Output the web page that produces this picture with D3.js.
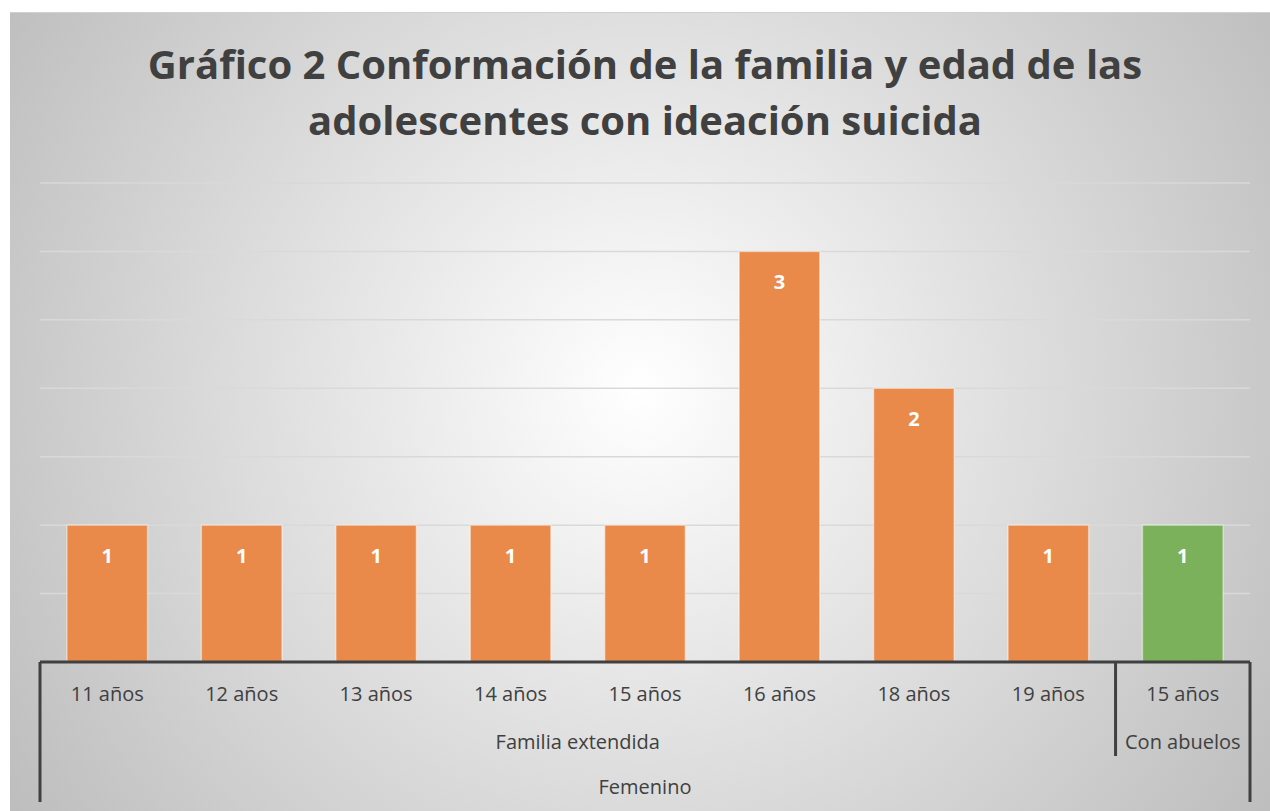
<!DOCTYPE html>
<html><head><meta charset="utf-8">
<script src="https://cdn.jsdelivr.net/npm/d3@7"></script>
<style>html,body{margin:0;padding:0;background:#fff;}svg{display:block;}</style>
</head><body>
<script>
const ages = ["11 años","12 años","13 años","14 años","15 años","16 años","18 años","19 años","15 años"];
const families = ["Familia extendida","Familia extendida","Familia extendida","Familia extendida","Familia extendida","Familia extendida","Familia extendida","Familia extendida","Con abuelos"];
const sexes = ["Femenino","Femenino","Femenino","Femenino","Femenino","Femenino","Femenino","Femenino","Femenino"];
const values = [1,1,1,1,1,3,2,1,1];
const yTicks = [0,0.5,1,1.5,2,2.5,3,3.5];
const title = ["Gráfico 2 Conformación de la familia y edad de las","adolescentes con ideación suicida"];

const W=1270,H=811;
const svg=d3.select("body").append("svg").attr("width",W).attr("height",H);
const defs=svg.append("defs");
const rg=defs.append("radialGradient").attr("id","bg").attr("gradientUnits","userSpaceOnUse")
  .attr("cx",640).attr("cy",390).attr("r",760);
rg.append("stop").attr("offset","0%").attr("stop-color","#ffffff");
rg.append("stop").attr("offset","100%").attr("stop-color","#bdbdbd");
svg.append("rect").attr("x",10).attr("y",12).attr("width",W-10).attr("height",H-12).attr("fill","url(#bg)");
svg.append("line").attr("x1",10).attr("x2",W).attr("y1",12.5).attr("y2",12.5).attr("stroke","#d0d0d0");

const fontF="'Open Sans', sans-serif";
const tg=svg.append("g");
tg.selectAll("text").data(title).join("text")
  .attr("x",645).attr("y",(d,i)=>79+i*56).attr("text-anchor","middle")
  .attr("font-family",fontF).attr("font-weight","bold").attr("font-size",40).attr("fill","#404040")
  .text(d=>d);

const x0=40,x1=1250,yBase=662;
const idx=values.map((d,i)=>i);
const x=d3.scaleBand().domain(idx).range([x0,x1]).paddingInner(0.4).paddingOuter(0.2);
const y=d3.scaleLinear().domain([0,3.5]).range([yBase,183]);

svg.append("g").selectAll("line").data(yTicks.slice(1)).join("line")
  .attr("x1",x0).attr("x2",x1).attr("y1",d=>y(d)).attr("y2",d=>y(d))
  .attr("stroke","#d9d9d9").attr("stroke-width",1.5);

const colorOf=i=>families[i]==="Con abuelos"?"#7BB15A":"#EA8A4A";
svg.append("g").selectAll("rect").data(idx).join("rect")
  .attr("x",i=>x(i)).attr("width",x.bandwidth())
  .attr("y",i=>y(values[i])).attr("height",i=>yBase-y(values[i]))
  .attr("fill",colorOf).attr("stroke","rgba(255,255,255,0.45)").attr("stroke-width",1.5);

svg.append("g").selectAll("text").data(idx).join("text")
  .attr("x",i=>x(i)+x.bandwidth()/2).attr("y",i=>y(values[i])+38)
  .attr("text-anchor","middle").attr("font-family",fontF).attr("font-weight","bold")
  .attr("font-size",20).attr("fill","#fff").text(i=>values[i]);

// axis
const ax=svg.append("g").attr("stroke","#404040").attr("stroke-width",3).attr("fill","none");
ax.append("line").attr("x1",x0).attr("x2",x1).attr("y1",yBase).attr("y2",yBase);
ax.append("line").attr("x1",x0).attr("x2",x0).attr("y1",yBase).attr("y2",802);
ax.append("line").attr("x1",x1).attr("x2",x1).attr("y1",yBase).attr("y2",802);
const step=x.step();
const sepX=x(8)-x.paddingInner()*step/2;
ax.append("line").attr("x1",sepX).attr("x2",sepX).attr("y1",yBase).attr("y2",756);

const lab=svg.append("g").attr("font-family",fontF).attr("font-size",20).attr("fill","#404040").attr("text-anchor","middle");
lab.selectAll("text.age").data(idx).join("text").attr("class","age")
  .attr("x",i=>x(i)+x.bandwidth()/2).attr("y",701).text(i=>ages[i]);
const groups=[];
families.forEach((f,i)=>{const g=groups.find(g=>g.name===f);if(g)g.end=i;else groups.push({name:f,start:i,end:i});});
lab.selectAll("text.fam").data(groups).join("text").attr("class","fam")
  .attr("x",g=>{const a=g.start===0?x0:x(g.start)-x.paddingInner()*step/2;const b=g.end===idx.length-1?x1:x(g.end)+x.bandwidth()+x.paddingInner()*step/2;return (a+b)/2;})
  .attr("y",749).text(g=>g.name);
lab.append("text").attr("x",(x0+x1)/2).attr("y",794).text(sexes[0]);
</script>
</body></html>
